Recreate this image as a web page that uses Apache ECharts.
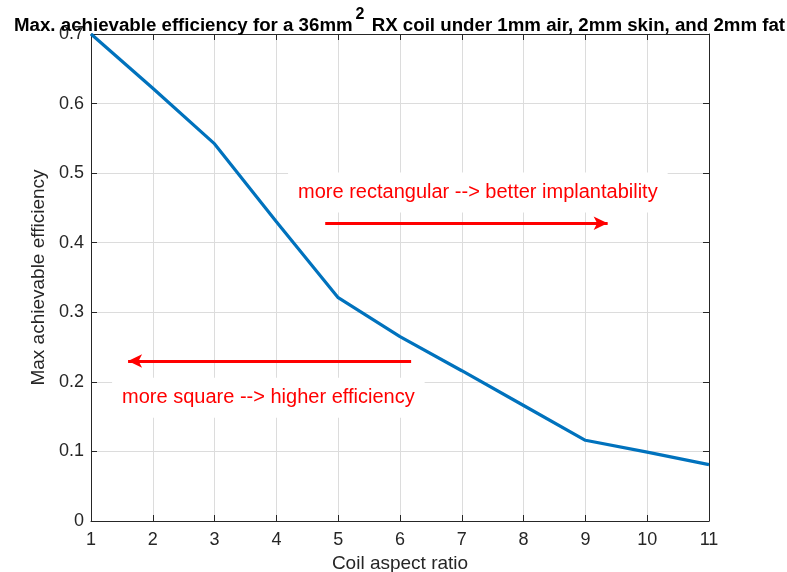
<!DOCTYPE html>
<html><head><meta charset="utf-8">
<script src="https://cdn.jsdelivr.net/npm/echarts@6/dist/echarts.min.js"></script>
<style>html,body{margin:0;padding:0;background:#fff}#c{width:787px;height:572px}</style>
</head><body><div id="c"></div>
<script>
const aspectRatio = [1, 2, 3, 4, 5, 6, 7, 8, 9, 10, 11];
const efficiency = [0.700, 0.622, 0.542, 0.430, 0.321, 0.265, 0.216, 0.166, 0.116, 0.099, 0.081];
const yTicks = [0, 0.1, 0.2, 0.3, 0.4, 0.5, 0.6, 0.7];
const arrowRight = [[4.79, 0.428], [9.36, 0.428]];
const arrowLeft = [[6.18, 0.230], [1.60, 0.230]];
const noteRight = {text: 'more rectangular --> better implantability', x: 7.26, y: 0.472};
const noteLeft = {text: 'more square --> higher efficiency', x: 3.87, y: 0.177};

const font = 'Liberation Sans, Arial, Helvetica, sans-serif';
const axisCol = '#262626';
const chart = echarts.init(document.getElementById('c'), null, {renderer: 'canvas'});
const baseX = {type: 'value', min: 1, max: 11, interval: 1,
  axisLine: {show: true, onZero: false, lineStyle: {color: axisCol, width: 1}},
  axisTick: {show: true, inside: true, length: 6, lineStyle: {color: axisCol}},
  splitLine: {show: false}};
const baseY = {type: 'value', min: 0, max: 0.7, interval: 0.1,
  axisLine: {show: true, onZero: false, lineStyle: {color: axisCol, width: 1}},
  axisTick: {show: true, inside: true, length: 6, lineStyle: {color: axisCol}},
  splitLine: {show: false}};
chart.setOption({
  animation: false,
  backgroundColor: '#fff',
  title: {
    text: '{t|Max. achievable efficiency for a 36mm}{s|2}{t| RX coil under 1mm air, 2mm skin, and 2mm fat}',
    left: 9, top: 2,
    textStyle: {rich: {
      t: {fontFamily: font, fontWeight: 'bold', fontSize: 18.7, color: '#000', verticalAlign: 'bottom', lineHeight: 28},
      s: {fontFamily: font, fontWeight: 'bold', fontSize: 16, color: '#000', verticalAlign: 'top', lineHeight: 28, padding: [0, 2, 10, 3]}
    }}
  },
  grid: {left: 91, right: 78, top: 34, bottom: 51, containLabel: false, outerBoundsMode: 'none'},
  xAxis: [
    Object.assign({}, baseX, {position: 'bottom',
      name: 'Coil aspect ratio', nameLocation: 'middle', nameGap: 29,
      nameTextStyle: {fontFamily: font, fontSize: 19, color: axisCol},
      axisLabel: {fontFamily: font, fontSize: 18, color: axisCol, margin: 10},
      splitLine: {show: true, lineStyle: {color: '#dcdcdc', width: 1}}}),
    Object.assign({}, baseX, {position: 'top', axisLabel: {show: false}})
  ],
  yAxis: [
    Object.assign({}, baseY, {position: 'left',
      name: 'Max achievable efficiency', nameLocation: 'middle', nameGap: 36, nameRotate: 90,
      nameTextStyle: {fontFamily: font, fontSize: 19, color: axisCol},
      axisLabel: {fontFamily: font, fontSize: 18, color: axisCol, margin: 7,
        formatter: v => { const t = yTicks.find(k => Math.abs(k - v) < 1e-9); return t === undefined ? '' : String(t); }},
      splitLine: {show: true, lineStyle: {color: '#dcdcdc', width: 1}}}),
    Object.assign({}, baseY, {position: 'right', axisLabel: {show: false}})
  ],
  series: [
    {type: 'line', xAxisIndex: 0, yAxisIndex: 0,
     data: aspectRatio.map((x, i) => [x, efficiency[i]]),
     showSymbol: false, symbol: 'none', z: 5,
     lineStyle: {color: '#0072BD', width: 3.2},
     markPoint: {
       symbol: 'rect', symbolSize: 0.001, silent: true,
       data: [noteRight, noteLeft].map(n => ({coord: [n.x, n.y],
         label: {show: true, position: 'inside', formatter: n.text, fontFamily: font, fontSize: 20,
           color: '#ff0000', backgroundColor: '#fff', padding: [10, 10, 10, 10]}}))
     },
     markLine: {
       silent: true, symbol: ['none', 'arrow'], symbolSize: [10, 14],
       label: {show: false},
       lineStyle: {color: '#ff0000', width: 3, type: 'solid'},
       data: [
         [{coord: arrowRight[0]}, {coord: arrowRight[1]}],
         [{coord: arrowLeft[0]}, {coord: arrowLeft[1]}]
       ]
     }}
  ]
});
</script></body></html>
